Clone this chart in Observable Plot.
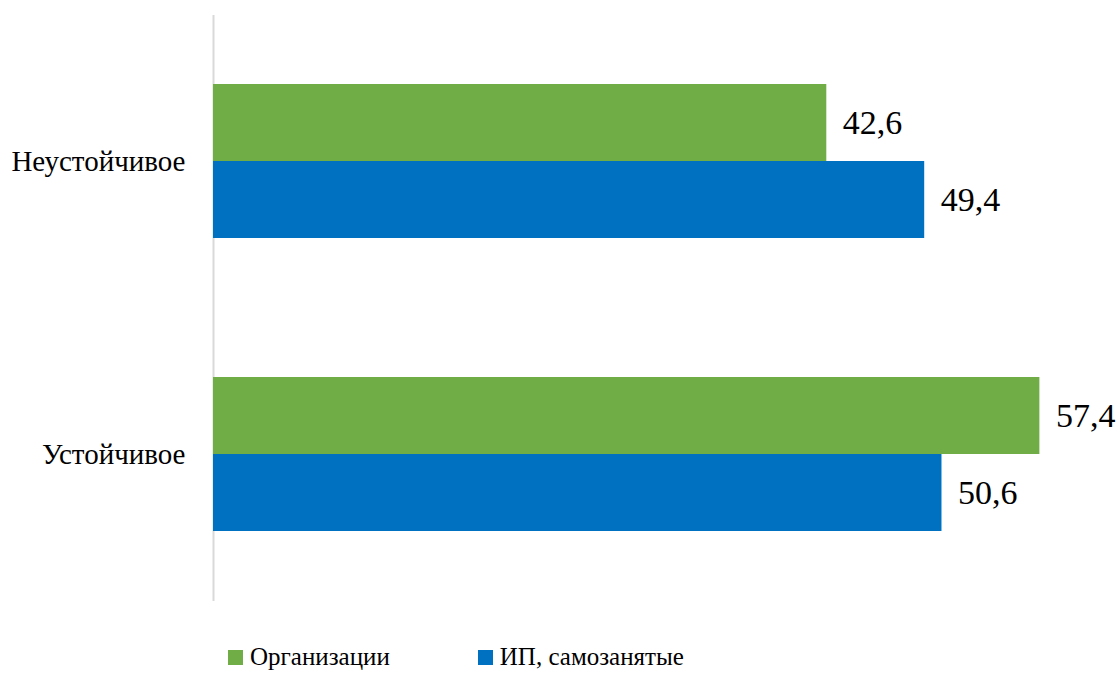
<!DOCTYPE html>
<html>
<head>
<meta charset="utf-8">
<script src="https://cdn.jsdelivr.net/npm/d3@7"></script>
<script src="https://cdn.jsdelivr.net/npm/@observablehq/plot@0.6"></script>
<style>
  html, body { margin: 0; background: #fff; }
  body, body *, svg text, svg tspan { font-family: 'Liberation Serif', 'Times New Roman', serif !important; }
  #legend { display: flex; align-items: center; padding-left: 228px; padding-top: 28px; font-size: 25px; color: #000; }
  .item { display: flex; align-items: center; }
  .sw { width: 15px; height: 15px; margin-right: 7px; }
</style>
</head>
<body>
<div id="chart"></div>
<div id="legend"></div>
<script>
const categories = ["Неустойчивое", "Устойчивое"];
const series = ["Организации", "ИП, самозанятые"];
const organizations = [42.6, 57.4];
const individuals = [49.4, 50.6];
const colors = ["#70AD47", "#0070C0"];

const data = [];
categories.forEach((c, i) => {
  data.push({category: c, series: series[0], value: organizations[i]});
  data.push({category: c, series: series[1], value: individuals[i]});
});
const fmt = v => v.toFixed(1).replace(".", ",");
const serif = "'Liberation Serif', 'Times New Roman', serif";

const chart = Plot.plot({
  width: 1120,
  height: 615,
  marginTop: 14,
  marginBottom: 15,
  marginLeft: 213,
  marginRight: 0,
  style: {fontFamily: serif, background: "#fff", color: "#000"},
  x: {domain: [0, 63], axis: null},
  y: {domain: series, padding: 0, axis: null},
  fy: {domain: categories, paddingInner: 0.475, paddingOuter: 0.235, label: null},
  color: {domain: series, range: colors},
  marks: [
    Plot.axisFy({anchor: "left", tickSize: 0, tickPadding: 28, fontSize: 29, label: null, fill: "#000"}),
    Plot.ruleX([0], {stroke: "#d9d9d9", strokeWidth: 2, insetTop: -69, insetBottom: -70}),
    Plot.barX(data, {fy: "category", y: "series", x: "value", fill: "series"}),
    Plot.text(data, {fy: "category", y: "series", x: "value", text: d => fmt(d.value), textAnchor: "start", dx: 16, fontSize: 34, fill: "#000"})
  ]
});
chart.setAttribute("font-family", serif);
chart.querySelectorAll("g[aria-label]").forEach(g => { if (g.hasAttribute("font-family")) g.setAttribute("font-family", serif); });
document.getElementById("chart").appendChild(chart);

const legend = document.getElementById("legend");
series.forEach((s, i) => {
  const item = document.createElement("div");
  item.className = "item";
  item.style.marginRight = i === 0 ? "88px" : "0";
  const sw = document.createElement("div");
  sw.className = "sw";
  sw.style.background = colors[i];
  const t = document.createElement("span");
  t.textContent = s;
  item.appendChild(sw);
  item.appendChild(t);
  legend.appendChild(item);
});
</script>
</body>
</html>
